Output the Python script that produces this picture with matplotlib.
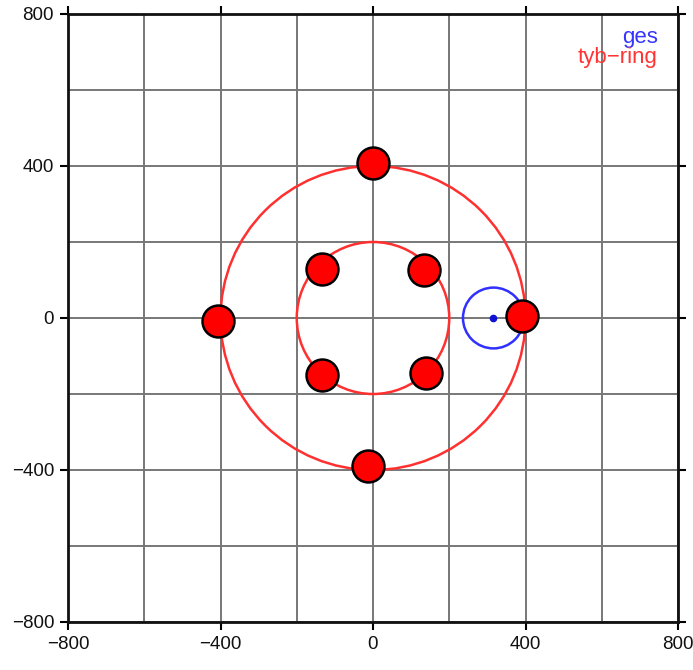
import matplotlib
matplotlib.use("Agg")
import matplotlib.pyplot as plt
from matplotlib.patches import Circle
import numpy as np

plt.rcParams['font.family'] = ['Liberation Sans', 'DejaVu Sans']

# data
ring_radii = [400, 200]
ring_center = (0, 0)
ges_center = (316, 0)
ges_radius = 80
pts_x = [0, -406, 390, -12, -133, 135, -133, 140]
pts_y = [408, -9, 5, -389, 128, 126, -150, -145]
major_ticks = [-800, -400, 0, 400, 800]
minor_ticks = [-600, -200, 200, 600]
legend_labels = ["ges", "tyb\u2212ring"]
legend_colors = ["#3535ff", "#ff3535"]

fig = plt.figure(figsize=(6.93, 6.70), dpi=100)
ax = fig.add_axes([68/693, 1-622/670, 610/693, 608/670])
ax.set_xlim(-800, 800)
ax.set_ylim(-800, 800)

ax.set_xticks(major_ticks)
ax.set_yticks(major_ticks)
ax.set_xticks(minor_ticks, minor=True)
ax.set_yticks(minor_ticks, minor=True)
ax.tick_params(which='major', direction='out', length=6, width=1.5, color='black',
               top=True, right=True, labelsize=13.5, pad=4, labelcolor='#111111')
ax.tick_params(which='minor', length=0, top=True, right=True)
ax.grid(True, which='both', color='#777777', linewidth=1.4, zorder=0)
ax.set_axisbelow(True)
for s in ax.spines.values():
    s.set_linewidth(2.0)
    s.set_color('#111111')

for r in ring_radii:
    ax.add_patch(Circle(ring_center, r, fill=False, edgecolor='#ff3030', linewidth=1.8, zorder=2))
ax.add_patch(Circle(ges_center, ges_radius, fill=False, edgecolor='#3030ff', linewidth=1.8, zorder=2))
ax.plot([ges_center[0]], [ges_center[1]], 'o', color='#1010d0', markersize=4.5, zorder=3)

ax.plot(pts_x, pts_y, 'o', linestyle='none', markersize=23, markerfacecolor='#ff0000',
        markeredgecolor='black', markeredgewidth=1.8, zorder=4, clip_on=False)

ys = [0.962, 0.928]
for lab, col, y in zip(legend_labels, legend_colors, ys):
    ax.text(0.967, y, lab, color=col, fontsize=16, ha='right', va='center',
            transform=ax.transAxes)

fig.savefig("out.png", dpi=100)
